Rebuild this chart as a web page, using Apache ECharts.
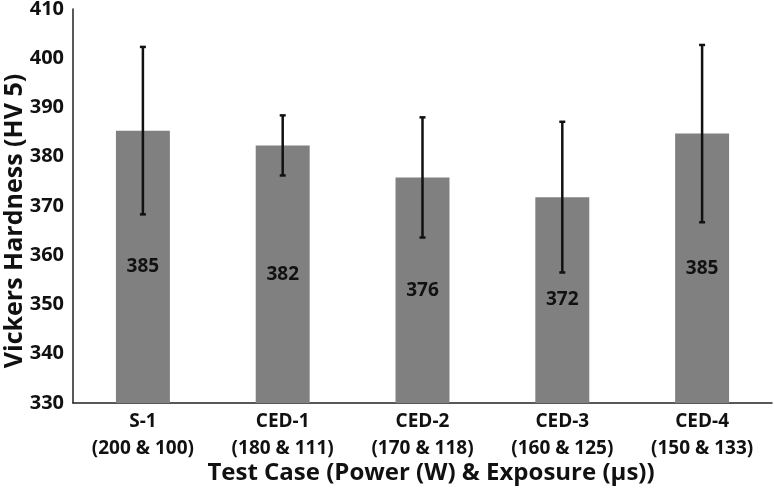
<!DOCTYPE html>
<html>
<head>
<meta charset="utf-8">
<script src="https://cdn.jsdelivr.net/npm/echarts@6/dist/echarts.min.js"></script>
<style>html,body{margin:0;padding:0;background:#fff}#c{width:774px;height:495px}</style>
</head>
<body>
<div id="c"></div>
<script>
var categories = ['S-1\n(200 & 100)', 'CED-1\n(180 & 111)', 'CED-2\n(170 & 118)', 'CED-3\n(160 & 125)', 'CED-4\n(150 & 133)'];
var meanValues = [385.3, 382.3, 375.8, 371.8, 384.7];
var errorValues = [17.0, 6.1, 12.2, 15.3, 18.0];
var yTicks = { min: 330, max: 410, interval: 10 };
var yTitle = 'Vickers Hardness (HV 5)';
var xTitle = 'Test Case (Power (W) & Exposure (µs))';

var FONT = '"Open Sans", "Noto Sans", sans-serif';
var errData = meanValues.map(function (m, i) { return [i, m - errorValues[i], m + errorValues[i]]; });

var chart = echarts.init(document.getElementById('c'));
chart.setOption({
  animation: false,
  backgroundColor: '#fff',
  grid: { left: 73, right: 2, top: 9, bottom: 92, containLabel: false, outerBoundsMode: 'none' },
  graphic: [
    {
      type: 'text', x: 431, y: 473,
      style: { text: xTitle, fill: '#111', font: 'bold 24px ' + FONT, align: 'center', verticalAlign: 'middle' }
    },
    {
      type: 'text', x: 15, y: 221, rotation: Math.PI / 2,
      style: { text: yTitle, fill: '#111', font: 'bold 25px ' + FONT, align: 'center', verticalAlign: 'middle' }
    }
  ],
  xAxis: {
    type: 'category',
    data: categories,
    axisLine: { lineStyle: { color: '#222', width: 1.5 } },
    axisTick: { show: false },
    axisLabel: { color: '#111', fontFamily: FONT, fontWeight: 'bold', fontSize: 19, lineHeight: 27, margin: 5 }
  },
  yAxis: {
    type: 'value',
    min: yTicks.min, max: yTicks.max, interval: yTicks.interval,
    axisLine: { show: true, lineStyle: { color: '#222', width: 1.5 } },
    axisTick: { show: false },
    splitLine: { show: false },
    axisLabel: { color: '#111', fontFamily: FONT, fontWeight: 'bold', fontSize: 20, margin: 9 }
  },
  series: [
    {
      type: 'bar',
      data: meanValues,
      barWidth: '38.6%',
      itemStyle: { color: '#808080' },
      label: {
        show: true, position: 'inside', color: '#111', fontFamily: FONT, fontWeight: 'bold', fontSize: 19,
        formatter: function (p) { return Math.round(p.value); }
      },
      z: 2
    },
    {
      type: 'custom',
      data: errData,
      z: 5,
      renderItem: function (params, api) {
        var x = api.value(0);
        var lo = api.coord([x, api.value(1)]);
        var hi = api.coord([x, api.value(2)]);
        var cw = 3;
        var st = { stroke: '#111', lineWidth: 2.5 };
        return {
          type: 'group',
          children: [
            { type: 'line', shape: { x1: hi[0], y1: hi[1], x2: lo[0], y2: lo[1] }, style: st },
            { type: 'line', shape: { x1: hi[0] - cw, y1: hi[1], x2: hi[0] + cw, y2: hi[1] }, style: st },
            { type: 'line', shape: { x1: lo[0] - cw, y1: lo[1], x2: lo[0] + cw, y2: lo[1] }, style: st }
          ]
        };
      }
    }
  ]
});
</script>
</body>
</html>
